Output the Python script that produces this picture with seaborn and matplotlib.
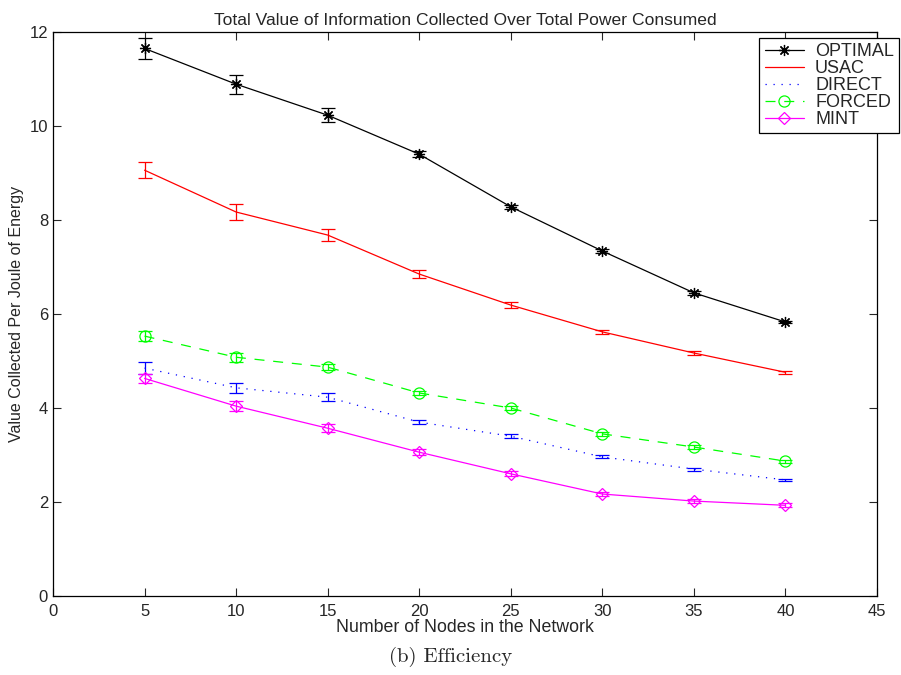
import matplotlib
matplotlib.use("Agg")
import matplotlib.pyplot as plt
import seaborn as sns
import pandas as pd

nodes = [5, 10, 15, 20, 25, 30, 35, 40]
optimal = [11.65, 10.89, 10.23, 9.40, 8.28, 7.34, 6.45, 5.83]
optimal_err = [0.22, 0.20, 0.15, 0.07, 0.04, 0.04, 0.04, 0.03]
usac = [9.06, 8.17, 7.68, 6.85, 6.19, 5.62, 5.17, 4.76]
usac_err = [0.17, 0.16, 0.12, 0.08, 0.06, 0.04, 0.04, 0.03]
direct = [4.85, 4.43, 4.23, 3.70, 3.40, 2.96, 2.70, 2.47]
direct_err = [0.12, 0.10, 0.08, 0.05, 0.04, 0.03, 0.03, 0.02]
forced = [5.53, 5.08, 4.87, 4.32, 4.00, 3.45, 3.17, 2.87]
forced_err = [0.10, 0.10, 0.07, 0.05, 0.05, 0.05, 0.04, 0.03]
mint = [4.63, 4.04, 3.57, 3.06, 2.60, 2.17, 2.02, 1.93]
mint_err = [0.10, 0.10, 0.08, 0.06, 0.05, 0.05, 0.04, 0.04]

series_names = ["OPTIMAL", "USAC", "DIRECT", "FORCED", "MINT"]
values = [optimal, usac, direct, forced, mint]
errors = [optimal_err, usac_err, direct_err, forced_err, mint_err]
colors = ["#000000", "#ff0000", "#0000ff", "#00ff00", "#ff00ff"]
styles = ["-", "-", (0, (1, 5.4)), (0, (8, 7)), "-"]
markers = [(8, 2, 0), None, None, "o", "D"]

sns.set_theme(style="ticks")
plt.rcParams["font.family"] = ["Liberation Sans", "DejaVu Sans"]

fig = plt.figure(figsize=(9.01, 6.75), dpi=100)
ax = fig.add_axes([0.0588, 0.117, 0.9146, 0.8356])

for name, vals, errs, c, ls, mk in zip(series_names, values, errors, colors, styles, markers):
    df = pd.DataFrame({"x": nodes, "y": vals})
    ax.errorbar(nodes, vals, yerr=errs, fmt="none", ecolor=c, elinewidth=0.9,
                capsize=5, capthick=0.9, zorder=2)
    kw = dict(color=c, linestyle=ls, linewidth=0.9, label=name)
    if mk is not None:
        kw.update(marker=mk, markersize=8 if mk != "D" else 6.5,
                  markerfacecolor="none", markeredgecolor=c, markeredgewidth=0.9)
    sns.lineplot(data=df, x="x", y="y", ax=ax, **kw)

ax.set_xlim(0, 45)
ax.set_ylim(0, 12)
ax.set_xticks(range(0, 46, 5))
ax.set_yticks(range(0, 13, 2))
ax.tick_params(direction="in", top=True, right=True, labelsize=12, length=6, width=0.8)
ax.tick_params(axis="x", pad=6)
for s in ax.spines.values():
    s.set_linewidth(0.9)
    s.set_color("black")

ax.set_xlabel("Number of Nodes in the Network", fontsize=12.8, labelpad=0)
ax.set_ylabel("Value Collected Per Joule of Energy", fontsize=11.5, labelpad=4)
ax.set_title("Total Value of Information Collected Over Total Power Consumed",
             fontsize=12.6, pad=5)

leg = ax.legend(loc="upper right", bbox_to_anchor=(0.9978, 0.9437),
                bbox_transform=fig.transFigure, fontsize=13, frameon=True,
                fancybox=False, edgecolor="black", borderaxespad=0.0,
                handlelength=2.2, labelspacing=0.0, borderpad=0.28,
                handletextpad=0.6, framealpha=1)
leg.get_frame().set_linewidth(0.9)

fig.text(0.5, 0.027, "(b) Efficiency", ha="center", va="center", fontsize=15,
         family=["cmr10", "DejaVu Serif"])

fig.savefig("out.png", dpi=100)
